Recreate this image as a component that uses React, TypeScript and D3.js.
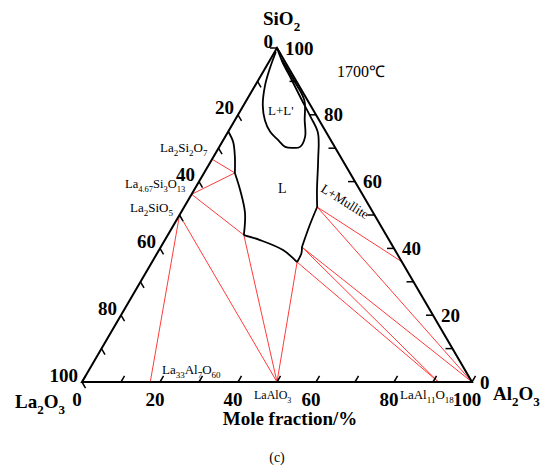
import React from "react";
import * as d3 from "d3";

// ---------- data (ternary: Al = Al2O3 mol%, Si = SiO2 mol%, La2O3 = rest) ----------
const tickValues = d3.range(0, 101, 10);
const labelValues = [0, 20, 40, 60, 80, 100];

const compoundNames = ["La2Si2O7", "La4.67Si3O13", "La2SiO5", "La33Al7O60", "LaAlO3", "LaAl11O18", "Al2O3", "Mullite"];
const compoundAl = [0, 0, 0, 17.5, 50, 91.4, 100, 64];
const compoundSi = [66.7, 56.2, 50, 0, 0, 0, 0, 36];

const invariantNames = ["Pa", "Pb", "Pc", "Pd", "Pe"];
const invariantAl = [7.9, 19.5, 37.2, 36.2, 34.1];
const invariantSi = [62.6, 44.0, 35.9, 40.4, 52.4];

const tieFrom = ["La2Si2O7", "La4.67Si3O13", "La4.67Si3O13", "Pb", "La2SiO5", "La2SiO5", "Pc", "Pc", "Pd", "Pd", "Pe", "Pe"];
const tieTo = ["Pa", "Pa", "Pb", "LaAlO3", "LaAlO3", "La33Al7O60", "LaAlO3", "LaAl11O18", "LaAl11O18", "Al2O3", "Al2O3", "Mullite"];

// liquidus boundary segments [Al, Si]
const liqSeg1: [number, number][] = [[0, 75], [2.8, 71.9], [5.5, 67.4], [7.9, 62.6]];
const liqSeg2: [number, number][] = [[7.9, 62.6], [11.8, 57.5], [16.5, 50.6], [19.5, 44.0]];
const liqSeg3: [number, number][] = [[19.5, 44.0], [24.4, 42.5], [31.8, 39.5], [37.2, 35.9]];
const liqSeg4: [number, number][] = [[37.2, 35.9], [37.0, 38.5], [36.2, 40.4]];
const liqSeg5: [number, number][] = [[36.2, 40.4], [34.9, 47.0], [34.1, 52.4]];
const liqSeg6: [number, number][] = [[34.1, 52.4], [31.5, 57.5], [27.3, 66.5], [23.2, 74.6], [18.8, 79.5], [13.8, 84.8], [8.5, 90.5], [3.5, 95.8], [0.5, 99.4]];
// L + L' miscibility dome
const domeSeg: [number, number][] = [[0.3, 98.8], [1.2, 94.0], [2.5, 88.9], [4.9, 82.9], [7.7, 78.4], [10.8, 74.9], [14.0, 72.5], [16.9, 70.4], [19.1, 70.1], [20.7, 70.4], [20.5, 73.4], [17.9, 78.4], [14.8, 84.4], [9, 90.5], [3, 96.5]];

// ---------- layout ----------
const W = 550;
const H = 472;
const BL = { x: 82, y: 382 };
const BR = { x: 472, y: 382 };
const TOP = { x: 277, y: 48 };

const alScale = d3.scaleLinear().domain([0, 100]).range([0, BR.x - BL.x]);
const siX = d3.scaleLinear().domain([0, 100]).range([0, TOP.x - BL.x]);
const siY = d3.scaleLinear().domain([0, 100]).range([BL.y, TOP.y]);

function project(al: number, si: number): [number, number] {
  return [BL.x + alScale(al) + siX(si), siY(si)];
}

function pointOf(name: string): [number, number] {
  let i = compoundNames.indexOf(name);
  if (i >= 0) return project(compoundAl[i], compoundSi[i]);
  i = invariantNames.indexOf(name);
  return project(invariantAl[i], invariantSi[i]);
}

const FONT = "'Liberation Serif', 'Times New Roman', serif";

function Chem({ text, x, y, size, sub, bold, anchor }: { text: string; x: number; y: number; size: number; sub: number; bold?: boolean; anchor?: string }) {
  const parts = text.match(/[0-9.]+|[^0-9.]+/g) || [];
  const shift = size * 0.3;
  let cur = 0;
  const spans = parts.map((p, i) => {
    const isNum = /^[0-9.]+$/.test(p);
    const dy = isNum ? shift - cur : -cur;
    cur = isNum ? shift : 0;
    return (
      <tspan key={i} dy={dy} fontSize={isNum ? sub : size}>
        {p}
      </tspan>
    );
  });
  return (
    <text x={x} y={y} fontFamily={FONT} fontSize={size} fontWeight={bold ? "bold" : "normal"} textAnchor={anchor || "start"} fill="#000">
      {spans}
    </text>
  );
}

export default function App() {
  const line = d3
    .line<[number, number]>()
    .x((d) => project(d[0], d[1])[0])
    .y((d) => project(d[0], d[1])[1])
    .curve(d3.curveCatmullRom.alpha(0.5));

  const tickLen = 7;
  const leftDir = [(TOP.x - BL.x), (TOP.y - BL.y)];
  const leftLen = Math.hypot(leftDir[0], leftDir[1]);
  const bDir = [leftDir[0] / leftLen, leftDir[1] / leftLen]; // bottom ticks parallel to left edge
  const rightDir = [(BR.x - TOP.x), (BR.y - TOP.y)];
  const rightLen = Math.hypot(rightDir[0], rightDir[1]);
  const lDir = [rightDir[0] / rightLen, rightDir[1] / rightLen]; // left ticks parallel to right edge
  const rDir = [-1, 0]; // right ticks parallel to bottom

  const tri = [project(0, 0), project(100, 0), project(0, 100)];

  return (
    <svg width={W} height={H} viewBox={`0 0 ${W} ${H}`} style={{ display: "block", background: "#fff", position: "absolute", left: 0, top: 0 }}>
      <rect x={0} y={0} width={W} height={H} fill="#fff" />
      {/* tie lines */}
      {tieFrom.map((f, i) => {
        const p = pointOf(f);
        const q = pointOf(tieTo[i]);
        return <line key={"t" + i} x1={p[0]} y1={p[1]} x2={q[0]} y2={q[1]} stroke="#ff3b3b" strokeWidth={1} />;
      })}
      {/* triangle */}
      <polygon points={tri.map((p) => p.join(",")).join(" ")} fill="none" stroke="#000" strokeWidth={2} strokeLinejoin="miter" />
      {/* ticks */}
      {tickValues.map((v) => {
        const [x, y] = project(v, 0);
        return <line key={"bt" + v} x1={x} y1={y} x2={x + bDir[0] * tickLen} y2={y + bDir[1] * tickLen} stroke="#000" strokeWidth={1.5} />;
      })}
      {tickValues.map((v) => {
        const [x, y] = project(0, 100 - v);
        return <line key={"lt" + v} x1={x} y1={y} x2={x + lDir[0] * tickLen} y2={y + lDir[1] * tickLen} stroke="#000" strokeWidth={1.5} />;
      })}
      {tickValues.map((v) => {
        const [x, y] = project(100 - v, v);
        return <line key={"rt" + v} x1={x} y1={y} x2={x + rDir[0] * tickLen} y2={y + rDir[1] * tickLen} stroke="#000" strokeWidth={1.5} />;
      })}
      {/* tick labels */}
      {labelValues.map((v) => {
        const [x, y] = project(v, 0);
        return (
          <text key={"bl" + v} x={x - 5} y={y + 24} textAnchor="middle" fontFamily={FONT} fontWeight="bold" fontSize={19}>
            {v}
          </text>
        );
      })}
      {labelValues.map((v) => {
        const [x, y] = project(0, 100 - v);
        return (
          <text key={"ll" + v} x={x - 4} y={y - 7} dy="0.35em" textAnchor="end" fontFamily={FONT} fontWeight="bold" fontSize={19}>
            {v}
          </text>
        );
      })}
      {labelValues.map((v) => {
        const [x, y] = project(100 - v, v);
        return (
          <text key={"rl" + v} x={x + 8} y={y} dy="0.35em" textAnchor="start" fontFamily={FONT} fontWeight="bold" fontSize={19}>
            {v}
          </text>
        );
      })}
      {/* liquidus boundaries */}
      {[liqSeg1, liqSeg2, liqSeg3, liqSeg4, liqSeg5, liqSeg6, domeSeg].map((seg, i) => (
        <path key={"s" + i} d={line(seg) || ""} fill="none" stroke="#000" strokeWidth={1.8} />
      ))}
      {/* corner labels */}
      <Chem text="SiO2" x={263} y={25} size={19} sub={13} bold />
      <Chem text="La2O3" x={15} y={408} size={19} sub={13} bold />
      <Chem text="Al2O3" x={493} y={400} size={19} sub={13} bold />
      <text x={290} y={425} textAnchor="middle" fontFamily={FONT} fontWeight="bold" fontSize={19}>
        Mole fraction/%
      </text>
      {/* compound labels */}
      <Chem text="La2Si2O7" x={160} y={152} size={13} sub={9} />
      <Chem text="La4.67Si3O13" x={125} y={188} size={12.5} sub={8.5} />
      <Chem text="La2SiO5" x={130} y={212} size={13} sub={9} />
      <Chem text="La33Al7O60" x={162} y={374} size={13} sub={9} />
      <Chem text="LaAlO3" x={254} y={399} size={12} sub={8} />
      <Chem text="LaAl11O18" x={400} y={399} size={13} sub={9} />
      {/* region labels */}
      <text x={337} y={77} fontFamily={FONT} fontSize={16}>1700℃</text>
      <text x={268} y={115} fontFamily={FONT} fontSize={13}>L+L'</text>
      <text x={278} y={193} fontFamily={FONT} fontSize={14}>L</text>
      <text x={0} y={0} fontFamily={FONT} fontSize={13} transform="translate(320,191) rotate(32)">L+Mullite</text>
      <text x={277} y={462} textAnchor="middle" fontFamily={FONT} fontSize={14}>(c)</text>
    </svg>
  );
}
